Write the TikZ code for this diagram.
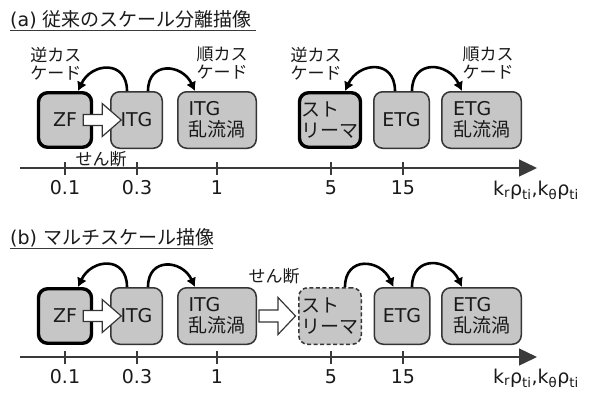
\documentclass[tikz,border=0pt]{standalone}
\usepackage{fontspec}
\setmainfont{DejaVu Sans}
\newfontfamily\jp{Noto Sans CJK JP}
\usetikzlibrary{arrows.meta,calc}
\definecolor{boxfill}{HTML}{C6C6C6}
\definecolor{boxline}{HTML}{353535}
\definecolor{txt}{HTML}{1A1A1A}
\definecolor{axisc}{HTML}{3A3A3A}
\begin{document}
\begin{tikzpicture}[x=1pt,y=-1pt,
  every node/.style={text=txt},
  box/.style={draw=boxline, fill=boxfill, rounded corners=9pt, line width=1.5pt,
    minimum height=56.5pt, inner sep=0pt, align=left,
    font=\fontsize{19}{21}\selectfont},
  thickbox/.style={box, draw=black, line width=3.4pt, minimum height=54.5pt},
  dashbox/.style={box, dash pattern=on 4pt off 2.5pt},
  cyc/.style={line width=2.6pt, draw=black, -{Latex[length=9pt,width=10.5pt]}},
  blockarr/.style={draw=boxline, fill=white, line width=1.2pt, line join=miter},
  axisline/.style={draw=axisc, line width=1.3pt, -{Triangle[length=18pt,width=17pt]}},
  tickline/.style={draw=axisc, line width=1.3pt},
  ticklab/.style={font=\fontsize{19}{21}\selectfont},
  lab/.style={font=\fontsize{17}{18}\selectfont\jp, align=left, inner sep=0pt},
  title/.style={font=\fontsize{19}{21}\selectfont, anchor=west, inner sep=0pt},
]
\useasboundingbox[fill=white] (0,0) rectangle (592,392);

% ---------------- panel (a) ----------------
\node[title] (ta) at (10,20) {(a) {\jp 従来のスケール分離描像}};
\draw[draw=axisc, line width=1pt] (10,30.5) -- (256,30.5);

\node[thickbox, minimum width=53pt] (zfa) at (65,120) {ZF};
\node[box, minimum width=51.5pt] (itga) at (136.5,120) {ITG};
\node[box, minimum width=78.5pt] (itgta) at (217,120) {ITG\\{\jp 乱流渦}};
\node[thickbox, minimum width=61pt] (sta) at (330,120) {\jp スト\\\jp リーマ};
\node[box, minimum width=55.5pt] (etga) at (401.5,120) {ETG};
\node[box, minimum width=79.5pt] (etgta) at (481.5,120) {ETG\\{\jp 乱流渦}};

\draw[blockarr, shift={(zfa.east)}] (-10,-5.5) -- (9,-5.5) -- (9,-16.5) -- (28,0)
   -- (9,16.5) -- (9,5.5) -- (-10,5.5) -- cycle;

\draw[cyc] ([xshift=-9.5pt]itga.north) to[out=90,in=65,looseness=1.65] ([xshift=13pt]zfa.north);
\draw[cyc] ([xshift=11.5pt]itga.north) to[out=90,in=115,looseness=1.65] ([xshift=-22pt]itgta.north);
\draw[cyc] ([xshift=-6.5pt]etga.north) to[out=90,in=65,looseness=1.65] ([xshift=15pt]sta.north);
\draw[cyc] ([xshift=10.5pt]etga.north) to[out=90,in=115,looseness=1.65] ([xshift=-19.5pt]etgta.north);

\node[lab] (inva) at (56,63.5) {逆カス\\ケード};
\node[lab] (fwda) at (222,63.5) {順カス\\ケード};
\node[lab] (invb) at (316,63.5) {逆カス\\ケード};
\node[lab] (fwdb) at (488,63.5) {順カス\\ケード};
\node[lab] (sha) at (101,159) {せん断};

\coordinate (axa0) at (20,168);
\coordinate (axa1) at (537,168);
\draw[axisline] (axa0) -- (axa1);
\foreach \x/\t [count=\i] in {65/0.1,137/0.3,217/1,331/5,403/15} {
  \draw[tickline] (\x,162) -- (\x,175);
  \node[ticklab] (la\i) at (\x,188) {\t};
}
\node[ticklab] (kla) at (536,190) {k\textsubscript{r}ρ\textsubscript{ti},k\textsubscript{θ}ρ\textsubscript{ti}};

% ---------------- panel (b) ----------------
\node[title] (tb) at (10,238) {(b) {\jp マルチスケール描像}};
\draw[draw=axisc, line width=1pt] (10,248) -- (213,248);

\node[thickbox, minimum width=53pt] (zfb) at (65,316) {ZF};
\node[box, minimum width=51.5pt] (itgb) at (136.5,316) {ITG};
\node[box, minimum width=78.5pt] (itgtb) at (217,316) {ITG\\{\jp 乱流渦}};
\node[dashbox, minimum width=62.5pt] (stb) at (330,316) {\jp スト\\\jp リーマ};
\node[box, minimum width=55.5pt] (etgb) at (402,316) {ETG};
\node[box, minimum width=79.5pt] (etgtb) at (481.5,316) {ETG\\{\jp 乱流渦}};

\draw[blockarr, shift={(zfb.east)}] (-10,-5.5) -- (9,-5.5) -- (9,-16.5) -- (28,0)
   -- (9,16.5) -- (9,5.5) -- (-10,5.5) -- cycle;
\draw[blockarr, shift={(itgtb.east)}] (2,-6) -- (21,-6) -- (21,-18.5) -- (38.5,0)
   -- (21,18.5) -- (21,6) -- (2,6) -- cycle;

\draw[cyc] ([xshift=-9.5pt]itgb.north) to[out=90,in=65,looseness=1.65] ([xshift=13pt]zfb.north);
\draw[cyc] ([xshift=11.5pt]itgb.north) to[out=90,in=115,looseness=1.65] ([xshift=-22pt]itgtb.north);
\draw[cyc] ([xshift=15pt]stb.north) to[out=90,in=115,looseness=1.65] ([xshift=-8.5pt]etgb.north);
\draw[cyc] ([xshift=10pt]etgb.north) to[out=90,in=115,looseness=1.65] ([xshift=-19.5pt]etgtb.north);

\node[lab] (shb) at (274,276) {せん断};

\coordinate (axb0) at (20,357);
\coordinate (axb1) at (537,357);
\draw[axisline] (axb0) -- (axb1);
\foreach \x/\t [count=\i] in {65/0.1,137/0.3,217/1,331/5,403/15} {
  \draw[tickline] (\x,351) -- (\x,364);
  \node[ticklab] (lb\i) at (\x,377) {\t};
}
\node[ticklab] (klb) at (536,378) {k\textsubscript{r}ρ\textsubscript{ti},k\textsubscript{θ}ρ\textsubscript{ti}};
\end{tikzpicture}
\end{document}
